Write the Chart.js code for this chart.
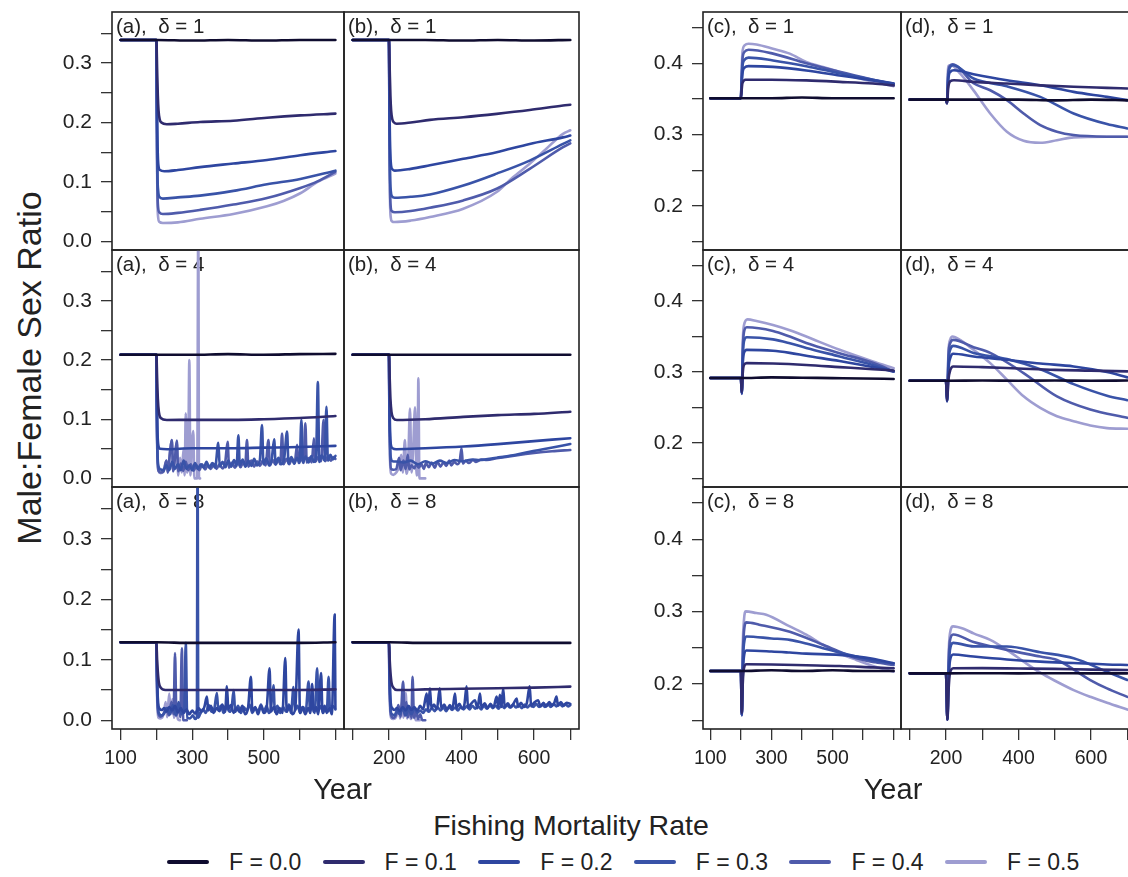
<!DOCTYPE html>
<html>
<head>
<meta charset="utf-8">
<script src="https://cdn.jsdelivr.net/npm/chart.js@4.4.1/dist/chart.umd.min.js"></script>
<style>
  html, body { margin: 0; padding: 0; background: #fff; overflow: hidden; }
  #wrap { position: relative; width: 1128px; height: 877px; overflow: hidden;
          font-family: 'Liberation Sans', Arial, Helvetica, sans-serif; color: #222; }
  #wrap canvas { position: absolute; }
  .txt { position: absolute; white-space: nowrap; line-height: 1; text-align: center; }
</style>
</head>
<body>
<div id="wrap"></div>
<script>
// ---- data: [year, male:female ratio], one list per F level ----
const fLabels = ['F = 0.0', 'F = 0.1', 'F = 0.2', 'F = 0.3', 'F = 0.4', 'F = 0.5'];
const seriesColors = ['#0f0c2f', '#2f2b6e', '#2e46a0', '#3953a8', '#4f5bab', '#9e9dd1'];

const xTicks = [100, 200, 300, 400, 500, 600, 700];
const xTickLabelsOdd = ['100', '', '300', '', '500', '', ''];
const xTickLabelsEven = ['', '200', '', '400', '', '600', ''];
const yTicksLeft = [0, 0.05, 0.1, 0.15, 0.2, 0.25, 0.3, 0.35];
const yTickLabelsLeft = ['0.0', '', '0.1', '', '0.2', '', '0.3', ''];
const yTicksRight = [0.15, 0.2, 0.25, 0.3, 0.35, 0.4, 0.45];
const yTickLabelsRight = ['', '0.2', '', '0.3', '', '0.4', ''];

const aDelta1 = [
  [[100,.339],[200,.339],[300,.338],[400,.339],[500,.338],[600,.339],[700,.339]],
  [[100,.339],[200,.339],[202,.29],[204,.245],[206,.22],[209,.206],[214,.2],[229,.197],[260,.198],[322,.201],[415,.203],[509,.208],[602,.212],[700,.215]],
  [[100,.339],[200,.339],[201,.27],[202,.2],[204,.145],[206,.126],[210,.12],[222,.118],[260,.12],[322,.125],[415,.131],[509,.137],[602,.145],[700,.152]],
  [[100,.339],[200,.339],[201,.25],[202,.16],[203,.11],[205,.085],[208,.075],[218,.072],[260,.074],[322,.077],[415,.085],[509,.096],[602,.105],[700,.119]],
  [[100,.339],[200,.339],[201,.24],[202,.14],[203,.085],[205,.056],[208,.049],[218,.046],[260,.048],[322,.053],[415,.062],[509,.073],[602,.09],[650,.101],[700,.117]],
  [[100,.339],[200,.339],[201,.23],[202,.12],[203,.065],[205,.04],[208,.033],[218,.031],[260,.032],[322,.038],[415,.046],[509,.059],[555,.068],[602,.081],[650,.1],[700,.114]]
];
const bDelta1 = [
  [[100,.339],[200,.339],[300,.339],[400,.338],[500,.339],[600,.338],[700,.339]],
  [[100,.339],[200,.339],[202,.29],[204,.245],[206,.22],[209,.206],[214,.2],[221,.198],[260,.2],[313,.2045],[405,.209],[497,.2146],[588,.221],[680,.2286],[700,.23]],
  [[100,.339],[200,.339],[201,.27],[202,.2],[204,.145],[206,.127],[210,.121],[216,.119],[260,.122],[313,.128],[405,.139],[497,.15],[588,.164],[680,.175],[700,.178]],
  [[100,.339],[200,.339],[201,.25],[202,.16],[203,.11],[205,.085],[208,.076],[216,.0734],[260,.075],[313,.079],[405,.094],[497,.114],[588,.136],[680,.164],[700,.17]],
  [[100,.339],[200,.339],[201,.24],[202,.14],[203,.085],[205,.057],[208,.051],[216,.049],[260,.051],[313,.0566],[405,.069],[497,.0885],[588,.122],[680,.1585],[700,.165]],
  [[100,.339],[200,.339],[201,.23],[202,.12],[203,.065],[205,.04],[208,.034],[216,.0325],[260,.035],[313,.041],[405,.055],[497,.083],[542,.108],[588,.1306],[634,.156],[680,.181],[700,.187]]
];
const cDelta1 = [
  [[100,.351],[200,.351],[300,.351],[400,.352],[500,.351],[600,.351],[700,.351]],
  [[100,.351],[200,.351],[202,.36],[205,.372],[215,.377],[300,.377],[414,.376],[523,.374],[632,.3716],[700,.369]],
  [[100,.351],[200,.351],[202,.365],[205,.385],[212,.394],[225,.396],[305,.395],[414,.39],[523,.383],[632,.376],[700,.3716]],
  [[100,.351],[200,.351],[202,.37],[205,.395],[212,.405],[225,.408],[305,.404],[414,.396],[523,.386],[632,.377],[700,.3716]],
  [[100,.351],[200,.351],[202,.372],[205,.405],[212,.416],[225,.419],[305,.4136],[414,.4],[523,.388],[632,.377],[700,.3705]],
  [[100,.351],[200,.351],[202,.375],[205,.415],[212,.425],[225,.4275],[251,.4265],[305,.4205],[360,.4136],[414,.402],[469,.3948],[523,.3878],[578,.38],[632,.374],[700,.368]]
];
const dDelta1 = [
  [[100,.349],[200,.349],[300,.349],[400,.349],[500,.348],[600,.349],[700,.348]],
  [[100,.349],[200,.349],[203,.344],[206,.365],[212,.375],[222,.3762],[276,.374],[368,.3716],[460,.369],[552,.367],[644,.3655],[700,.3646]],
  [[100,.349],[200,.349],[203,.344],[206,.375],[212,.388],[222,.3902],[276,.3846],[368,.3762],[460,.3692],[552,.3599],[644,.3529],[700,.3483]],
  [[100,.349],[200,.349],[203,.344],[206,.38],[212,.395],[220,.3972],[276,.3786],[368,.3678],[460,.3529],[552,.3296],[644,.3147],[700,.3086]],
  [[100,.349],[200,.349],[203,.344],[206,.385],[212,.397],[218,.3986],[276,.372],[322,.3622],[368,.3483],[414,.3296],[460,.3133],[506,.304],[552,.2993],[644,.297],[700,.2969]],
  [[100,.349],[200,.349],[203,.344],[205,.385],[208,.397],[214,.3972],[240,.385],[276,.362],[322,.3296],[368,.304],[414,.2913],[460,.2885],[506,.292],[552,.2961],[644,.297],[700,.2969]]
];

const aDelta4 = [
  [[100,.209],[200,.209],[300,.209],[400,.21],[500,.209],[600,.21],[700,.2105]],
  [[100,.209],[200,.209],[202,.17],[204,.135],[207,.112],[212,.102],[229,.0987],[300,.099],[415,.099],[500,.1],[600,.102],[700,.1054]],
  [[100,.209],[200,.209],[201,.15],[203,.08],[205,.058],[210,.05],[230,.0494],[300,.051],[415,.051],[500,.052],[600,.053],[700,.055]],
  [[100,.209],[200,.209],[201,.12],[203,.045],[206,.02],[212,.015],[220,.014],[228,.022],[236,.014],[244,.028],[252,.016],[260,.024],[268,.014],[276,.03],[284,.016],[292,.022],[300,.014],[308,.026],[316,.016],[324,.024],[332,.018],[340,.028],[348,.018],[356,.026],[364,.018],[373,.06],[377,.02],[385,.028],[393,.019],[401,.03],[409,.02],[417,.031],[424,.021],[429,.073],[433,.022],[441,.032],[449,.02],[457,.03],[465,.021],[473,.033],[481,.022],[489,.031],[495,.09],[499,.024],[507,.034],[515,.022],[522,.032],[529,.066],[533,.024],[541,.035],[549,.024],[557,.034],[565,.079],[569,.025],[577,.036],[585,.025],[593,.035],[600,.026],[605,.099],[609,.027],[617,.037],[625,.027],[633,.038],[640,.028],[646,.036],[651,.163],[655,.028],[662,.039],[670,.03],[675,.121],[679,.03],[686,.04],[693,.032],[700,.038]],
  [[100,.209],[200,.209],[201,.11],[203,.035],[206,.013],[212,.01],[220,.012],[228,.03],[232,.01],[238,.045],[243,.065],[247,.012],[252,.035],[257,.064],[261,.012],[268,.025],[275,.013],[282,.028],[289,.014],[296,.024],[304,.013],[312,.022],[320,.014],[328,.024],[336,.015],[344,.023],[352,.016],[360,.025],[368,.016],[376,.024],[385,.017],[392,.026],[399,.062],[403,.018],[411,.027],[419,.018],[427,.028],[435,.019],[443,.028],[448,.02],[453,.065],[457,.02],[465,.03],[473,.02],[481,.029],[489,.021],[497,.03],[505,.022],[513,.065],[517,.022],[525,.031],[533,.023],[541,.032],[546,.024],[551,.076],[555,.024],[563,.033],[571,.024],[579,.033],[586,.025],[593,.057],[597,.026],[605,.034],[611,.026],[616,.093],[620,.027],[627,.035],[634,.027],[640,.068],[644,.028],[652,.036],[660,.029],[667,.099],[671,.029],[679,.037],[687,.03],[694,.036],[700,.033]],
  [[100,.209],[200,.209],[201,.12],[203,.04],[206,.012],[212,.009],[220,.012],[228,.03],[232,.01],[238,.045],[243,.065],[247,.012],[252,.04],[257,.06],[261,.005],[266,.035],[271,.01],[276,.05],[279,.005],[282,.11],[285,.01],[289,.04],[292,.2],[295,.005],[299,.06],[303,.08],[306,0],[311,0],[314,0],[317,.45],[319,0],[322,0]]
];
const bDelta4 = [
  [[100,.209],[200,.209],[300,.209],[400,.209],[500,.209],[600,.209],[700,.209]],
  [[100,.209],[200,.209],[202,.17],[204,.135],[207,.112],[212,.102],[222,.0987],[300,.1],[405,.104],[500,.107],[600,.109],[700,.1127]],
  [[100,.209],[200,.209],[201,.15],[203,.08],[205,.058],[210,.051],[220,.0494],[300,.051],[405,.054],[500,.058],[600,.063],[700,.068]],
  [[100,.209],[200,.209],[201,.13],[203,.06],[205,.035],[210,.029],[220,.0286],[240,.027],[260,.03],[280,.024],[300,.029],[320,.025],[340,.03],[360,.026],[380,.031],[405,.029],[430,.032],[450,.031],[497,.035],[550,.04],[588,.045],[640,.051],[700,.058]],
  [[100,.209],[200,.209],[201,.12],[203,.04],[206,.016],[212,.0146],[220,.016],[228,.035],[232,.014],[240,.03],[246,.016],[252,.04],[256,.015],[262,.022],[270,.017],[276,.025],[282,.018],[290,.024],[296,.016],[302,.026],[310,.019],[318,.027],[326,.018],[334,.028],[342,.02],[350,.027],[358,.021],[366,.03],[372,.022],[380,.028],[388,.024],[395,.029],[400,.051],[404,.025],[412,.03],[420,.026],[432,.031],[440,.028],[455,.032],[470,.031],[497,.034],[550,.039],[600,.043],[650,.046],[700,.048]],
  [[100,.209],[200,.209],[201,.12],[203,.03],[206,.008],[212,.006],[220,.01],[228,.02],[234,.04],[238,.01],[244,.065],[248,.008],[253,.03],[258,.118],[262,.01],[266,.04],[272,.12],[276,.005],[279,.02],[281,.169],[284,0],[290,0],[296,0],[300,0]]
];
const cDelta4 = [
  [[100,.2916],[200,.2916],[300,.2925],[400,.292],[500,.2915],[600,.291],[700,.2902]],
  [[100,.2916],[200,.2916],[203,.272],[206,.298],[210,.31],[219,.3126],[305,.312],[414,.31],[523,.307],[632,.304],[700,.3022]],
  [[100,.2916],[200,.2916],[203,.27],[206,.31],[210,.327],[219,.3313],[305,.33],[360,.327],[414,.323],[523,.3155],[632,.307],[700,.3008]],
  [[100,.2916],[200,.2916],[203,.27],[206,.32],[210,.343],[219,.349],[305,.346],[360,.3406],[414,.334],[523,.322],[632,.31],[700,.3008]],
  [[100,.2916],[200,.2916],[203,.27],[206,.33],[210,.356],[219,.3631],[305,.358],[360,.35],[414,.341],[523,.3266],[632,.313],[700,.3008]],
  [[100,.2916],[200,.2916],[203,.269],[206,.34],[210,.366],[222,.3743],[251,.372],[305,.3664],[360,.359],[414,.35],[523,.3313],[632,.3149],[700,.3055]]
];
const dDelta4 = [
  [[100,.2878],[200,.2878],[300,.288],[400,.2878],[500,.288],[600,.2878],[700,.288]],
  [[100,.2878],[200,.2878],[203,.26],[207,.29],[212,.303],[220,.3079],[300,.307],[400,.305],[500,.303],[600,.302],[700,.3009]],
  [[100,.2878],[200,.2878],[203,.259],[207,.305],[212,.32],[220,.3257],[276,.322],[368,.3173],[460,.312],[552,.3079],[644,.3],[700,.2925]],
  [[100,.2878],[200,.2878],[203,.259],[207,.315],[212,.332],[220,.3369],[276,.327],[368,.3183],[460,.304],[552,.283],[644,.2667],[700,.2602]],
  [[100,.2878],[200,.2878],[203,.259],[207,.325],[212,.341],[220,.3453],[276,.335],[322,.327],[414,.2986],[506,.2658],[598,.2472],[700,.2355]],
  [[100,.2878],[200,.2878],[203,.2588],[207,.33],[212,.346],[218,.35],[240,.345],[276,.3313],[322,.3126],[368,.2893],[414,.2658],[460,.2495],[506,.2378],[552,.2308],[598,.2247],[644,.221],[700,.22]]
];

const aDelta8 = [
  [[100,.129],[200,.129],[300,.128],[400,.128],[500,.128],[600,.128],[700,.129]],
  [[100,.129],[200,.129],[202,.1],[204,.08],[207,.062],[212,.054],[225,.05],[300,.05],[400,.05],[500,.05],[600,.05],[700,.051]],
  [[100,.129],[200,.129],[201,.1],[203,.05],[205,.028],[209,.019],[215,.017],[222,.02],[228,.014],[236,.022],[244,.016],[252,.024],[260,.013],[268,.02],[276,.012],[284,.018],[292,.01],[300,.016],[308,.011],[318,.02],[326,.014],[334,.022],[341,.039],[345,.016],[352,.024],[360,.012],[368,.02],[376,.015],[384,.026],[392,.014],[397,.056],[401,.018],[408,.025],[416,.012],[424,.02],[432,.014],[440,.024],[448,.01],[456,.02],[464,.072],[468,.014],[476,.022],[484,.01],[492,.024],[500,.012],[508,.02],[516,.086],[520,.014],[528,.022],[536,.01],[544,.02],[552,.012],[560,.103],[564,.014],[572,.024],[580,.01],[588,.02],[597,.15],[601,.012],[608,.022],[616,.01],[624,.02],[630,.012],[635,.06],[639,.014],[646,.022],[652,.01],[660,.078],[664,.012],[670,.024],[676,.012],[684,.02],[690,.01],[698,.175],[700,.02]],
  [[100,.129],[200,.129],[201,.09],[203,.04],[205,.018],[209,.01],[215,.008],[222,.012],[230,.02],[238,.01],[246,.025],[254,.008],[262,.03],[270,.01],[278,.018],[282,.128],[286,.004],[294,.003],[302,.008],[308,.002],[313,.005],[315,.45],[317,.004],[322,.01],[330,.018],[338,.012],[346,.025],[354,.014],[362,.02],[369,.045],[373,.016],[380,.024],[388,.012],[396,.022],[404,.014],[410,.02],[416,.05],[420,.014],[428,.024],[436,.012],[444,.022],[452,.016],[460,.026],[468,.012],[476,.02],[484,.014],[492,.026],[500,.014],[508,.024],[514,.012],[520,.02],[527,.058],[531,.014],[538,.024],[546,.012],[554,.022],[562,.014],[570,.026],[576,.012],[583,.055],[587,.016],[594,.024],[602,.012],[610,.022],[617,.014],[625,.064],[629,.016],[636,.024],[642,.012],[649,.086],[653,.016],[660,.024],[666,.012],[672,.022],[676,.014],[681,.072],[685,.016],[692,.024],[700,.018]],
  [[100,.129],[200,.129],[201,.08],[203,.03],[206,.01],[212,.006],[220,.01],[228,.02],[235,.008],[242,.03],[248,.01],[252,.111],[256,.008],[262,.025],[267,.005],[271,.119],[275,0],[285,0]],
  [[100,.129],[200,.129],[201,.07],[203,.02],[206,.004],[212,.003],[220,.01],[226,.03],[230,.005],[236,.044],[240,.01],[245,.035],[249,.004],[255,.02],[260,.002],[266,0]]
];
const bDelta8 = [
  [[100,.129],[200,.129],[300,.128],[400,.128],[500,.128],[600,.128],[700,.128]],
  [[100,.129],[200,.129],[202,.1],[204,.08],[207,.062],[212,.054],[222,.05],[300,.051],[400,.052],[500,.053],[600,.054],[700,.0556]],
  [[100,.129],[200,.129],[201,.1],[203,.05],[205,.028],[209,.02],[215,.017],[222,.02],[230,.015],[238,.022],[246,.016],[254,.024],[262,.017],[270,.022],[278,.016],[286,.024],[294,.018],[304,.044],[308,.018],[313,.053],[317,.02],[324,.026],[332,.018],[340,.053],[344,.02],[352,.026],[360,.018],[368,.025],[375,.019],[382,.044],[386,.02],[394,.027],[402,.019],[408,.026],[414,.056],[418,.021],[426,.027],[437,.033],[444,.02],[451,.044],[455,.021],[464,.028],[472,.02],[480,.027],[488,.021],[497,.039],[501,.022],[506,.042],[510,.022],[515,.053],[519,.022],[528,.028],[536,.021],[544,.028],[552,.036],[556,.022],[564,.029],[572,.022],[580,.028],[588,.056],[592,.023],[600,.029],[611,.033],[618,.023],[626,.029],[634,.023],[642,.03],[650,.024],[656,.029],[662,.039],[666,.024],[674,.03],[682,.024],[690,.029],[700,.027]],
  [[100,.129],[200,.129],[201,.09],[203,.04],[205,.015],[209,.01],[215,.008],[222,.015],[230,.01],[238,.02],[246,.008],[254,.018],[262,.01],[270,.02],[278,.012],[286,.016],[294,.012],[302,.018],[310,.014],[318,.02],[326,.015],[334,.022],[342,.016],[350,.021],[358,.015],[366,.022],[374,.017],[382,.021],[390,.016],[398,.022],[406,.018],[414,.023],[422,.018],[430,.024],[438,.019],[446,.023],[454,.018],[462,.024],[470,.019],[478,.025],[486,.02],[494,.024],[502,.019],[510,.025],[518,.02],[526,.025],[534,.021],[542,.026],[550,.021],[558,.025],[566,.02],[574,.026],[582,.021],[590,.026],[598,.022],[606,.027],[614,.022],[622,.026],[630,.022],[638,.027],[646,.022],[654,.027],[662,.023],[670,.028],[678,.023],[686,.027],[694,.023],[700,.025]],
  [[100,.129],[200,.129],[201,.08],[203,.03],[206,.008],[212,.004],[220,.01],[226,.025],[232,.006],[239,.064],[243,.008],[248,.03],[252,.005],[258,.02],[262,.004],[265,.072],[269,.004],[275,.015],[280,.002],[286,.01],[292,0],[300,0]],
  [[100,.129],[200,.129],[201,.07],[203,.02],[206,.004],[212,.002],[220,.006],[226,.02],[231,.003],[236,.03],[240,.004],[246,.045],[250,.003],[255,.02],[260,.002],[268,.012],[274,0],[285,0]]
];
const cDelta8 = [
  [[100,.218],[200,.218],[300,.219],[400,.218],[500,.219],[600,.218],[700,.218]],
  [[100,.218],[200,.218],[203,.16],[206,.2],[210,.222],[218,.2273],[300,.227],[414,.226],[523,.225],[632,.223],[700,.2218]],
  [[100,.218],[200,.218],[203,.158],[206,.21],[210,.238],[218,.2463],[300,.245],[360,.2435],[414,.242],[523,.2403],[632,.235],[700,.2287]],
  [[100,.218],[200,.218],[203,.157],[206,.22],[210,.255],[218,.2657],[300,.263],[360,.261],[414,.256],[469,.2495],[578,.238],[640,.232],[700,.2287]],
  [[100,.218],[200,.218],[203,.157],[206,.235],[210,.272],[218,.2852],[260,.282],[360,.2722],[469,.2542],[578,.2356],[640,.23],[700,.2264]],
  [[100,.218],[200,.218],[203,.157],[206,.25],[210,.288],[216,.3004],[251,.298],[283,.2958],[360,.2796],[414,.2681],[469,.2542],[523,.2426],[578,.2333],[632,.225],[700,.217]]
];
const dDelta8 = [
  [[100,.2148],[200,.2148],[300,.215],[400,.2148],[500,.215],[600,.2148],[700,.2148]],
  [[100,.2148],[200,.2148],[204,.151],[207,.19],[211,.215],[220,.2218],[300,.222],[400,.2215],[500,.221],[600,.22],[700,.2194]],
  [[100,.2148],[200,.2148],[204,.151],[207,.2],[211,.232],[220,.2408],[276,.238],[368,.234],[460,.231],[552,.229],[644,.227],[700,.2264]],
  [[100,.2148],[200,.2148],[204,.151],[207,.21],[211,.247],[220,.2569],[276,.252],[368,.2519],[460,.244],[552,.2356],[644,.2171],[700,.2056]],
  [[100,.2148],[200,.2148],[204,.151],[207,.225],[211,.26],[220,.2685],[276,.258],[368,.2472],[460,.238],[506,.2333],[598,.2056],[644,.194],[700,.1824]],
  [[100,.2148],[200,.2148],[204,.151],[207,.235],[211,.27],[220,.2796],[250,.276],[276,.27],[322,.2611],[368,.2472],[414,.231],[460,.2157],[506,.2032],[552,.1917],[598,.1824],[644,.1741],[700,.1648]]
];

// ---- layout ----
const FONT = "'Liberation Sans', Arial, Helvetica, sans-serif";
const wrap = document.getElementById('wrap');
const cols = {
  a: { left: 112, width: 232, yAxis: true, right: false },
  b: { left: 344, width: 235, yAxis: false, right: false },
  c: { left: 703, width: 198, yAxis: true, right: true },
  d: { left: 901, width: 235, yAxis: false, right: true }
};
const rows = [{ top: 12, height: 238 }, { top: 250, height: 237 }, { top: 487, height: 242 }];

// frame + panel caption
const panelFrame = {
  id: 'panelFrame',
  beforeDatasetsDraw(chart, args, opts) {
    const { ctx, chartArea: ca } = chart;
    ctx.save();
    ctx.fillStyle = '#222';
    ctx.font = '20.5px ' + FONT;
    ctx.textBaseline = 'alphabetic';
    ctx.fillText(opts.label, ca.left + 4, ca.top + 20.5);
    ctx.restore();
  },
  afterDraw(chart) {
    const { ctx, chartArea: ca } = chart;
    ctx.save();
    ctx.strokeStyle = '#222';
    ctx.lineWidth = 1.6;
    ctx.strokeRect(ca.left, ca.top, ca.right - ca.left, ca.bottom - ca.top);
    ctx.restore();
  }
};

function makePanel(colKey, rowIdx, series, label) {
  const col = cols[colKey], row = rows[rowIdx];
  const pad = 2;
  const axW = col.yAxis ? 62 : 0;
  const axH = rowIdx === 2 ? 60 : 0;
  const w = col.width + axW + 2 * pad, h = row.height + axH + 2 * pad;
  const cv = document.createElement('canvas');
  cv.width = w; cv.height = h;
  cv.style.width = w + 'px'; cv.style.height = h + 'px';
  cv.style.left = (col.left - axW - pad) + 'px';
  cv.style.top = (row.top - pad) + 'px';
  wrap.appendChild(cv);

  const yt = col.right ? yTicksRight : yTicksLeft;
  const ytl = col.right ? yTickLabelsRight : yTickLabelsLeft;
  const xtl = (colKey === 'a' || colKey === 'c') ? xTickLabelsOdd : xTickLabelsEven;
  const tickGrid = { drawOnChartArea: false, drawTicks: true, tickLength: 11, color: '#333', lineWidth: 1.3 };

  new Chart(cv, {
    type: 'line',
    data: {
      datasets: series.map((pts, i) => ({
        label: fLabels[i],
        data: pts.map(p => ({ x: p[0], y: p[1] })),
        borderColor: seriesColors[i],
        borderWidth: 2.6,
        pointRadius: 0,
        fill: false,
        cubicInterpolationMode: 'monotone',
        borderJoinStyle: 'round',
        borderCapStyle: 'round'
      }))
    },
    options: {
      responsive: false,
      animation: false,
      devicePixelRatio: 1,
      layout: { padding: pad },
      plugins: { legend: { display: false }, tooltip: { enabled: false }, panelFrame: { label } },
      scales: {
        x: {
          type: 'linear', min: 76, max: 724, display: axH > 0,
          afterBuildTicks: s => { s.ticks = xTicks.map(v => ({ value: v })); },
          afterFit: s => { s.height = axH; s.paddingLeft = 0; s.paddingRight = 0; },
          grid: tickGrid,
          border: { display: false },
          ticks: { autoSkip: false, maxRotation: 0, padding: 7, color: '#222',
                   font: { family: FONT, size: 19.5 }, callback: (v, i) => xtl[i] }
        },
        y: {
          type: 'linear',
          min: col.right ? 0.138 : -0.0145,
          max: col.right ? 0.472 : 0.386,
          display: axW > 0,
          afterBuildTicks: s => { s.ticks = yt.map(v => ({ value: v })); },
          afterFit: s => { s.width = axW; s.paddingTop = 0; s.paddingBottom = 0; },
          grid: tickGrid,
          border: { display: false },
          ticks: { autoSkip: false, padding: 9, color: '#222',
                   font: { family: FONT, size: 21 }, callback: (v, i) => ytl[i] }
        }
      }
    },
    plugins: [panelFrame]
  });
}

makePanel('a', 0, aDelta1, '(a),  \u03b4 = 1');
makePanel('b', 0, bDelta1, '(b),  \u03b4 = 1');
makePanel('c', 0, cDelta1, '(c),  \u03b4 = 1');
makePanel('d', 0, dDelta1, '(d),  \u03b4 = 1');
makePanel('a', 1, aDelta4, '(a),  \u03b4 = 4');
makePanel('b', 1, bDelta4, '(b),  \u03b4 = 4');
makePanel('c', 1, cDelta4, '(c),  \u03b4 = 4');
makePanel('d', 1, dDelta4, '(d),  \u03b4 = 4');
makePanel('a', 2, aDelta8, '(a),  \u03b4 = 8');
makePanel('b', 2, bDelta8, '(b),  \u03b4 = 8');
makePanel('c', 2, cDelta8, '(c),  \u03b4 = 8');
makePanel('d', 2, dDelta8, '(d),  \u03b4 = 8');

// ---- titles and legend as text ----
function addText(str, cx, top, size, extra) {
  const d = document.createElement('div');
  d.className = 'txt';
  d.textContent = str;
  d.style.fontSize = size + 'px';
  d.style.width = '500px';
  d.style.left = (cx - 250) + 'px';
  d.style.top = top + 'px';
  if (extra) Object.assign(d.style, extra);
  wrap.appendChild(d);
  return d;
}
addText('Male:Female Sex Ratio', 29, 368 - 17, 34, { transform: 'rotate(-90deg)' });
addText('Year', 342.5, 775, 29);
addText('Year', 893, 775, 29);
addText('Fishing Mortality Rate', 571, 811, 28.5);

fLabels.forEach((lab, i) => {
  const x = 167 + i * 155.6;
  const line = document.createElement('div');
  Object.assign(line.style, { position: 'absolute', left: x + 'px', top: '860px', width: '42px',
    height: '4px', borderRadius: '2px', background: seriesColors[i] });
  wrap.appendChild(line);
  const t = document.createElement('div');
  t.className = 'txt';
  t.textContent = lab;
  Object.assign(t.style, { left: (x + 62) + 'px', top: '851px', fontSize: '23px', textAlign: 'left' });
  wrap.appendChild(t);
});
</script>
</body>
</html>
